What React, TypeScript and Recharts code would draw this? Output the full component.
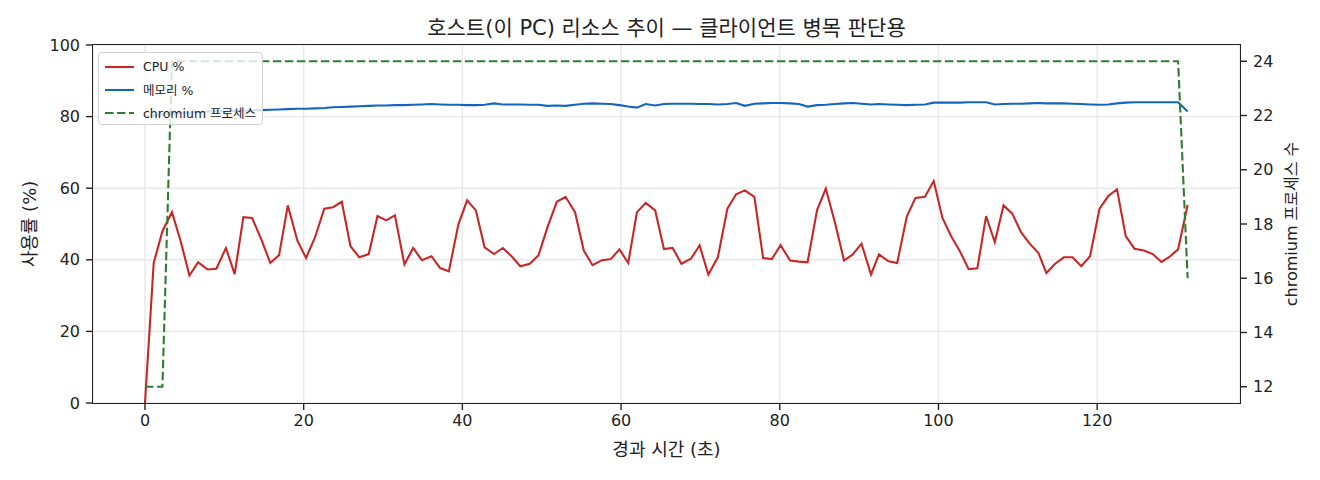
import { LineChart, Line, XAxis, YAxis, CartesianGrid } from "recharts";

// elapsed seconds of each sample
const times = [
  0.0, 1.1, 2.2, 3.4, 4.5, 5.6, 6.7, 7.9, 9.0, 10.2,
  11.3, 12.4, 13.5, 14.7, 15.8, 16.9, 18.0, 19.2, 20.3, 21.4,
  22.6, 23.7, 24.8, 25.9, 27.0, 28.2, 29.3, 30.4, 31.5, 32.7,
  33.8, 34.9, 36.1, 37.2, 38.3, 39.5, 40.6, 41.7, 42.8, 44.0,
  45.1, 46.2, 47.3, 48.5, 49.6, 50.7, 51.9, 53.0, 54.2, 55.3,
  56.4, 57.6, 58.7, 59.8, 60.9, 62.0, 63.1, 64.3, 65.4, 66.5,
  67.6, 68.8, 69.9, 71.0, 72.2, 73.4, 74.5, 75.6, 76.8, 77.9,
  79.0, 80.1, 81.3, 82.4, 83.5, 84.7, 85.8, 87.0, 88.1, 89.2,
  90.3, 91.5, 92.5, 93.7, 94.8, 96.0, 97.1, 98.3, 99.4, 100.5,
  101.6, 102.7, 103.8, 104.9, 106.0, 107.1, 108.2, 109.3, 110.4, 111.5,
  112.6, 113.6, 114.7, 115.8, 116.9, 118.0, 119.1, 120.3, 121.4, 122.5,
  123.6, 124.7, 125.9, 127.0, 128.1, 129.1, 130.2, 131.4,
];

const cpuPct = [
  0.0, 39.1, 48.0, 53.3, 45.2, 35.6, 39.3, 37.3, 37.5, 43.3,
  36.0, 51.9, 51.7, 45.5, 39.1, 41.3, 55.2, 45.4, 40.5, 46.1,
  54.3, 54.7, 56.2, 43.8, 40.7, 41.6, 52.2, 51.0, 52.4, 38.7,
  43.3, 39.9, 41.0, 37.7, 36.8, 49.9, 56.6, 53.8, 43.5, 41.6,
  43.3, 41.0, 38.2, 38.9, 41.3, 48.9, 56.2, 57.6, 53.3, 42.6,
  38.5, 39.9, 40.2, 42.9, 39.1, 53.3, 55.9, 53.8, 43.0, 43.3,
  38.9, 40.3, 44.0, 35.9, 40.7, 54.3, 58.3, 59.4, 57.6, 40.5,
  40.2, 44.1, 39.8, 39.5, 39.3, 53.9, 59.9, 50.0, 39.8, 41.5,
  44.5, 35.9, 41.5, 39.6, 39.1, 52.0, 57.3, 57.6, 62.0, 51.7,
  46.6, 42.4, 37.4, 37.6, 52.2, 44.9, 55.2, 52.9, 47.7, 44.5,
  41.9, 36.3, 38.9, 40.7, 40.7, 38.2, 41.0, 54.3, 57.8, 59.7,
  46.6, 43.1, 42.6, 41.6, 39.4, 40.8, 42.9, 55.3,
];

const memPct = [
  80.0, 80.3, 80.6, 80.8, 81.0, 81.1, 81.3, 81.4, 81.5, 81.5,
  81.6, 81.7, 81.7, 81.8, 81.9, 82.0, 82.1, 82.2, 82.2, 82.3,
  82.4, 82.6, 82.7, 82.8, 82.9, 83.0, 83.1, 83.1, 83.2, 83.2,
  83.3, 83.4, 83.5, 83.4, 83.3, 83.3, 83.2, 83.2, 83.3, 83.7,
  83.4, 83.4, 83.4, 83.3, 83.3, 83.0, 83.1, 83.0, 83.3, 83.6,
  83.7, 83.6, 83.5, 83.2, 82.8, 82.5, 83.5, 83.1, 83.5, 83.6,
  83.6, 83.6, 83.5, 83.5, 83.4, 83.5, 83.8, 83.0, 83.6, 83.7,
  83.8, 83.8, 83.7, 83.5, 82.8, 83.2, 83.3, 83.5, 83.7, 83.8,
  83.6, 83.4, 83.5, 83.4, 83.3, 83.2, 83.3, 83.4, 83.9, 83.9,
  83.9, 83.9, 84.0, 84.0, 84.0, 83.4, 83.5, 83.6, 83.6, 83.7,
  83.8, 83.7, 83.7, 83.7, 83.6, 83.5, 83.4, 83.3, 83.4, 83.7,
  83.9, 84.0, 84.0, 84.0, 84.0, 84.0, 84.0, 81.4,
];

const chromiumProcs = [
  12, 12, 12, 24, 24, 24, 24, 24, 24, 24,
  24, 24, 24, 24, 24, 24, 24, 24, 24, 24,
  24, 24, 24, 24, 24, 24, 24, 24, 24, 24,
  24, 24, 24, 24, 24, 24, 24, 24, 24, 24,
  24, 24, 24, 24, 24, 24, 24, 24, 24, 24,
  24, 24, 24, 24, 24, 24, 24, 24, 24, 24,
  24, 24, 24, 24, 24, 24, 24, 24, 24, 24,
  24, 24, 24, 24, 24, 24, 24, 24, 24, 24,
  24, 24, 24, 24, 24, 24, 24, 24, 24, 24,
  24, 24, 24, 24, 24, 24, 24, 24, 24, 24,
  24, 24, 24, 24, 24, 24, 24, 24, 24, 24,
  24, 24, 24, 24, 24, 24, 24, 16,
];

const xTicks = [0, 20, 40, 60, 80, 100, 120];
const pctTicks = [0, 20, 40, 60, 80, 100];
const procTicks = [12, 14, 16, 18, 20, 22, 24];

const data = times.map((t, i) => ({
  t,
  cpu: cpuPct[i],
  mem: memPct[i],
  procs: chromiumProcs[i],
}));

const FONT = '"DejaVu Sans", "Noto Sans CJK KR", sans-serif';
const CPU_COLOR = "#c62828";
const MEM_COLOR = "#1565c0";
const PROC_COLOR = "#2e7d32";
const INK = "#222";
const DASH = "8.5 3.5";

const tickStyle = { fontSize: 16, fill: INK, fontFamily: FONT };

const legendItems = [
  { label: "CPU %", color: CPU_COLOR, dash: undefined },
  { label: "메모리 %", color: MEM_COLOR, dash: undefined },
  { label: "chromium 프로세스", color: PROC_COLOR, dash: DASH },
];

const App = () => {
  return (
    <div style={{ position: "relative", width: 1320, height: 480, fontFamily: FONT, color: INK, background: "#fff" }}>
      <style>{"body{margin:0}"}</style>
      <LineChart
        width={1320}
        height={480}
        data={data}
        margin={{ top: 45, right: 20, bottom: 37, left: 33 }}
      >
        <CartesianGrid yAxisId="left" stroke="#e8e8e8" strokeWidth={1.4} />
        <XAxis
          dataKey="t"
          type="number"
          domain={[-6.55, 138]}
          ticks={xTicks}
          height={40}
          tick={tickStyle}
          tickSize={7}
          tickMargin={5}
          axisLine={false}
          tickLine={{ stroke: INK, strokeWidth: 1.4 }}
          allowDataOverflow
        />
        <YAxis
          yAxisId="left"
          domain={[0, 100]}
          ticks={pctTicks}
          width={60}
          tick={tickStyle}
          tickSize={7}
          tickMargin={6}
          axisLine={false}
          tickLine={{ stroke: INK, strokeWidth: 1.4 }}
        />
        <YAxis
          yAxisId="right"
          orientation="right"
          domain={[11.4, 24.6]}
          ticks={procTicks}
          width={60}
          tick={tickStyle}
          tickSize={7}
          tickMargin={6}
          axisLine={false}
          tickLine={{ stroke: INK, strokeWidth: 1.4 }}
          allowDataOverflow
        />
        <Line
          yAxisId="left"
          dataKey="cpu"
          type="linear"
          stroke={CPU_COLOR}
          strokeWidth={2.1}
          dot={false}
          isAnimationActive={false}
        />
        <Line
          yAxisId="left"
          dataKey="mem"
          type="linear"
          stroke={MEM_COLOR}
          strokeWidth={2.1}
          dot={false}
          isAnimationActive={false}
        />
        <Line
          yAxisId="right"
          dataKey="procs"
          type="linear"
          stroke={PROC_COLOR}
          strokeWidth={2.1}
          strokeDasharray={DASH}
          dot={false}
          isAnimationActive={false}
        />
      </LineChart>

      {/* plot frame */}
      <div
        style={{
          position: "absolute",
          left: 92.3,
          top: 44.3,
          width: 1148.4,
          height: 359.4,
          border: `1.4px solid ${INK}`,
          boxSizing: "border-box",
          pointerEvents: "none",
        }}
      />

      <div style={{ position: "absolute", left: 93, width: 1147, top: 18, lineHeight: "21px", textAlign: "center", fontSize: 21 }}>
        호스트(이 PC) 리소스 추이 — 클라이언트 병목 판단용
      </div>
      <div style={{ position: "absolute", left: 93, width: 1147, top: 441, lineHeight: "18px", textAlign: "center", fontSize: 18 }}>
        경과 시간 (초)
      </div>
      <div
        style={{
          position: "absolute",
          left: 30,
          top: 224,
          fontSize: 18,
          lineHeight: "18px",
          whiteSpace: "nowrap",
          transform: "translate(-50%, -50%) rotate(-90deg)",
        }}
      >
        사용률 (%)
      </div>
      <div
        style={{
          position: "absolute",
          left: 1292,
          top: 224,
          fontSize: 16,
          lineHeight: "18px",
          whiteSpace: "nowrap",
          transform: "translate(-50%, -50%) rotate(-90deg)",
        }}
      >
        chromium 프로세스 수
      </div>

      {/* legend */}
      <div
        style={{
          position: "absolute",
          left: 98,
          top: 52,
          width: 165,
          height: 73,
          boxSizing: "border-box",
          background: "rgba(255,255,255,0.8)",
          border: "1.2px solid #d0d0d0",
          borderRadius: 4,
          padding: "2px 0 0 6px",
        }}
      >
        {legendItems.map((it) => (
          <div key={it.label} style={{ display: "flex", alignItems: "center", height: 23 }}>
            <svg width={29} height={10} style={{ marginRight: 9, flex: "none" }}>
              <line
                x1={0}
                y1={5}
                x2={29}
                y2={5}
                stroke={it.color}
                strokeWidth={2.1}
                strokeDasharray={it.dash}
              />
            </svg>
            <span style={{ fontSize: 12.5, whiteSpace: "nowrap" }}>{it.label}</span>
          </div>
        ))}
      </div>
    </div>
  );
};

export default App;
